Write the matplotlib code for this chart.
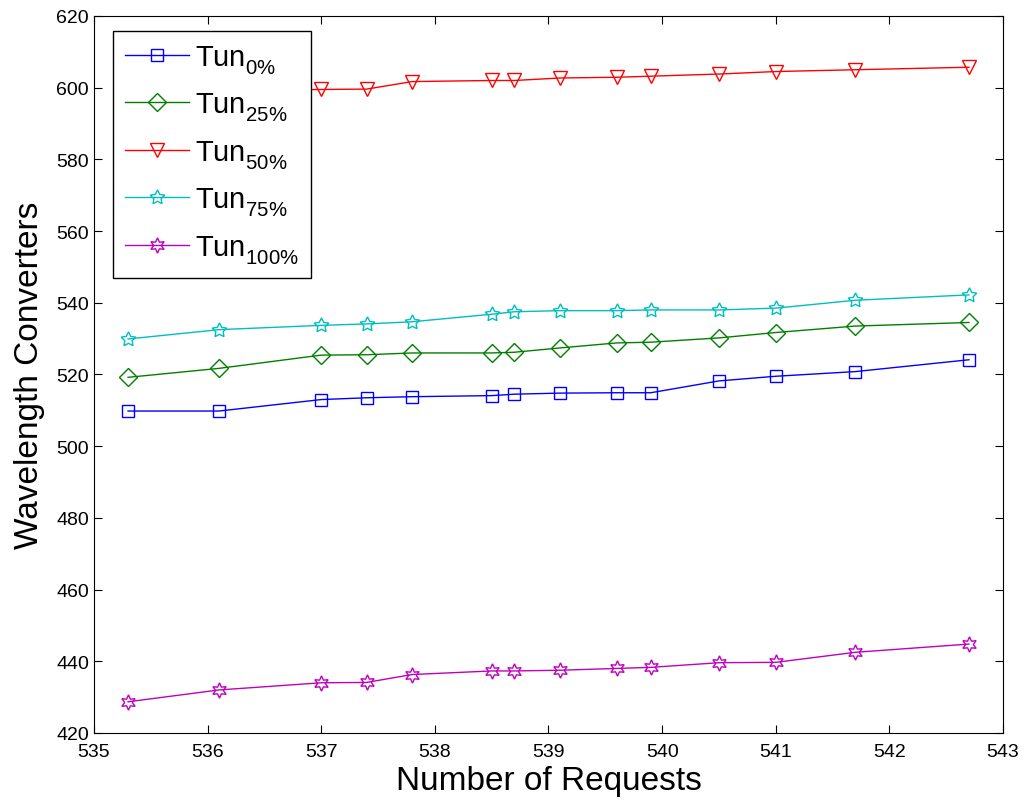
import matplotlib.pyplot as plt
import matplotlib._mathtext as mt

plt.rcParams['font.family'] = ['Liberation Sans', 'DejaVu Sans']
plt.rcParams['mathtext.default'] = 'regular'
# drop the subscripts a bit lower, like the MATLAB legend
mt.FontConstantsBase.sub1 = 0.55
mt.FontConstantsBase.sub2 = 0.7
mt.FontConstantsBase.subdrop = 0.6

# x positions (number of requests)
requests = [535.3, 536.1, 537.0, 537.4, 537.8, 538.5, 538.7, 539.1, 539.6, 539.9, 540.5, 541.0, 541.7, 542.7]

# wavelength converters per tunability level
tun_0 = [509.8, 509.8, 513.0, 513.5, 513.8, 514.1, 514.5, 514.8, 514.9, 514.9, 518.2, 519.5, 520.8, 524.1]
tun_25 = [519.2, 521.7, 525.4, 525.5, 526.0, 526.0, 526.2, 527.4, 528.8, 529.0, 530.2, 531.7, 533.5, 534.5]
tun_50 = [598.8, 599.2, 599.5, 599.6, 601.7, 602.0, 602.0, 602.7, 602.9, 603.2, 603.8, 604.5, 605.0, 605.7]
tun_75 = [529.9, 532.5, 533.7, 534.1, 534.7, 536.8, 537.5, 537.8, 537.8, 538.0, 538.0, 538.5, 540.7, 542.2]
tun_100 = [428.7, 432.0, 434.0, 434.1, 436.3, 437.3, 437.3, 437.5, 438.0, 438.3, 439.6, 439.7, 442.5, 444.8]

labels = [r'Tun$_{0\%}$', r'Tun$_{25\%}$', r'Tun$_{50\%}$', r'Tun$_{75\%}$', r'Tun$_{100\%}$']
colors = ['#0000ff', '#008000', '#ff0000', '#00bfbf', '#bf00bf']
markers = ['s', 'D', 'v', (5, 1, 0), (6, 1, 0)]
sizes = [8, 9, 10, 11, 11]

fig = plt.figure(figsize=(10.28, 8.04), dpi=100)
ax = fig.add_axes([0.0914, 0.0871, 0.8843, 0.8918])

series = [tun_0, tun_25, tun_50, tun_75, tun_100]
for vals, lab, c, m, s in zip(series, labels, colors, markers, sizes):
    ax.plot(requests, vals, color=c, marker=m, markersize=s, markerfacecolor='none',
            markeredgecolor=c, markeredgewidth=1.0, linewidth=1.0, label=lab)

ax.set_xlim(535, 543)
ax.set_ylim(420, 620)
ax.set_xticks(range(535, 544))
ax.set_yticks(range(420, 621, 20))
ax.tick_params(direction='in', top=True, right=True, labelsize=14, length=6)
ax.tick_params(axis='x', pad=7)
ax.set_xlabel('Number of Requests', fontsize=24, labelpad=4)
ax.set_ylabel('Wavelength Converters', fontsize=24, labelpad=8)

leg = ax.legend(loc='upper left', fontsize=21, handlelength=2.2, labelspacing=0.5,
                borderpad=0.42, handletextpad=0.2, fancybox=False, framealpha=1,
                edgecolor='black', borderaxespad=0, bbox_to_anchor=(0.021, 0.979))
leg.get_frame().set_linewidth(1.0)
leg.set_zorder(5)

plt.savefig('out.png')
